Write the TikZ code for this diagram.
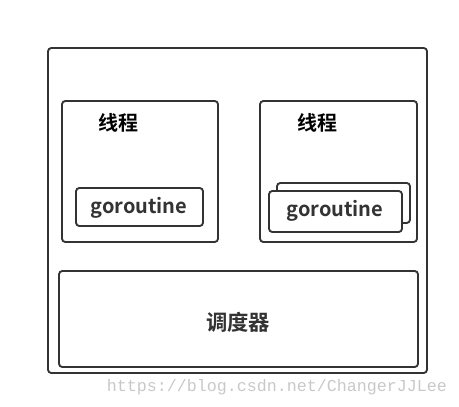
\documentclass[tikz,border=0pt]{standalone}
\usepackage{fontspec}
\newfontfamily\cjkbold[BoldFont={Noto Sans CJK SC Bold}]{Noto Sans CJK SC}
\setmonofont{Liberation Mono}
\definecolor{boxline}{RGB}{51,51,51}
\definecolor{markgray}{RGB}{200,200,200}
\tikzset{every picture/.style={line width=1.4pt}}
\tikzset{
  box/.style={draw=boxline, rounded corners=2.5pt, fill=white},
  label/.style={inner sep=0pt, font=\cjkbold\bfseries}
}

\begin{document}
\begin{tikzpicture}[x=0.75pt,y=0.75pt,yscale=-1,xscale=1]
\useasboundingbox (0,0) rectangle (459,406);

%Shape: Rectangle [outer]
\draw [box] (48,48) rectangle (427,373);
%Shape: Rectangle [left thread]
\draw [box] (62,101) rectangle (218,242);
%Shape: Rectangle [right thread]
\draw [box] (260,101) rectangle (417,242);
%Shape: Rectangle [left goroutine]
\draw [box] (76,188) rectangle (203,226);
%Shape: Rectangle [right goroutine, back]
\draw [box] (277,183) rectangle (410,223);
%Shape: Rectangle [right goroutine, front]
\draw [box] (269,191) rectangle (402,232);
%Shape: Rectangle [scheduler]
\draw [box] (59,271) rectangle (418,367);

% Text Node
\node [label, font=\cjkbold\bfseries\fontsize{15}{18}\selectfont, text=black] (threadA) at (118,123) {线程};
% Text Node
\node [label, font=\cjkbold\bfseries\fontsize{15}{18}\selectfont, text=black] (threadB) at (317,123) {线程};
% Text Node
\node [label, font=\cjkbold\bfseries\fontsize{15}{18}\selectfont, text=boxline] (goA) at (139,208) {goroutine};
% Text Node
\node [label, font=\cjkbold\bfseries\fontsize{15}{18}\selectfont, text=boxline] (goB) at (335,211) {goroutine};
% Text Node
\node [label, font=\cjkbold\bfseries\fontsize{16}{19}\selectfont, text=boxline] (sched) at (238,322) {调度器};
% Text Node
\node [inner sep=0pt, font=\ttfamily\fontsize{12.5}{15}\selectfont, text=markgray] (mark) at (277,387) {https://blog.csdn.net/ChangerJJLee};

\end{tikzpicture}
\end{document}
